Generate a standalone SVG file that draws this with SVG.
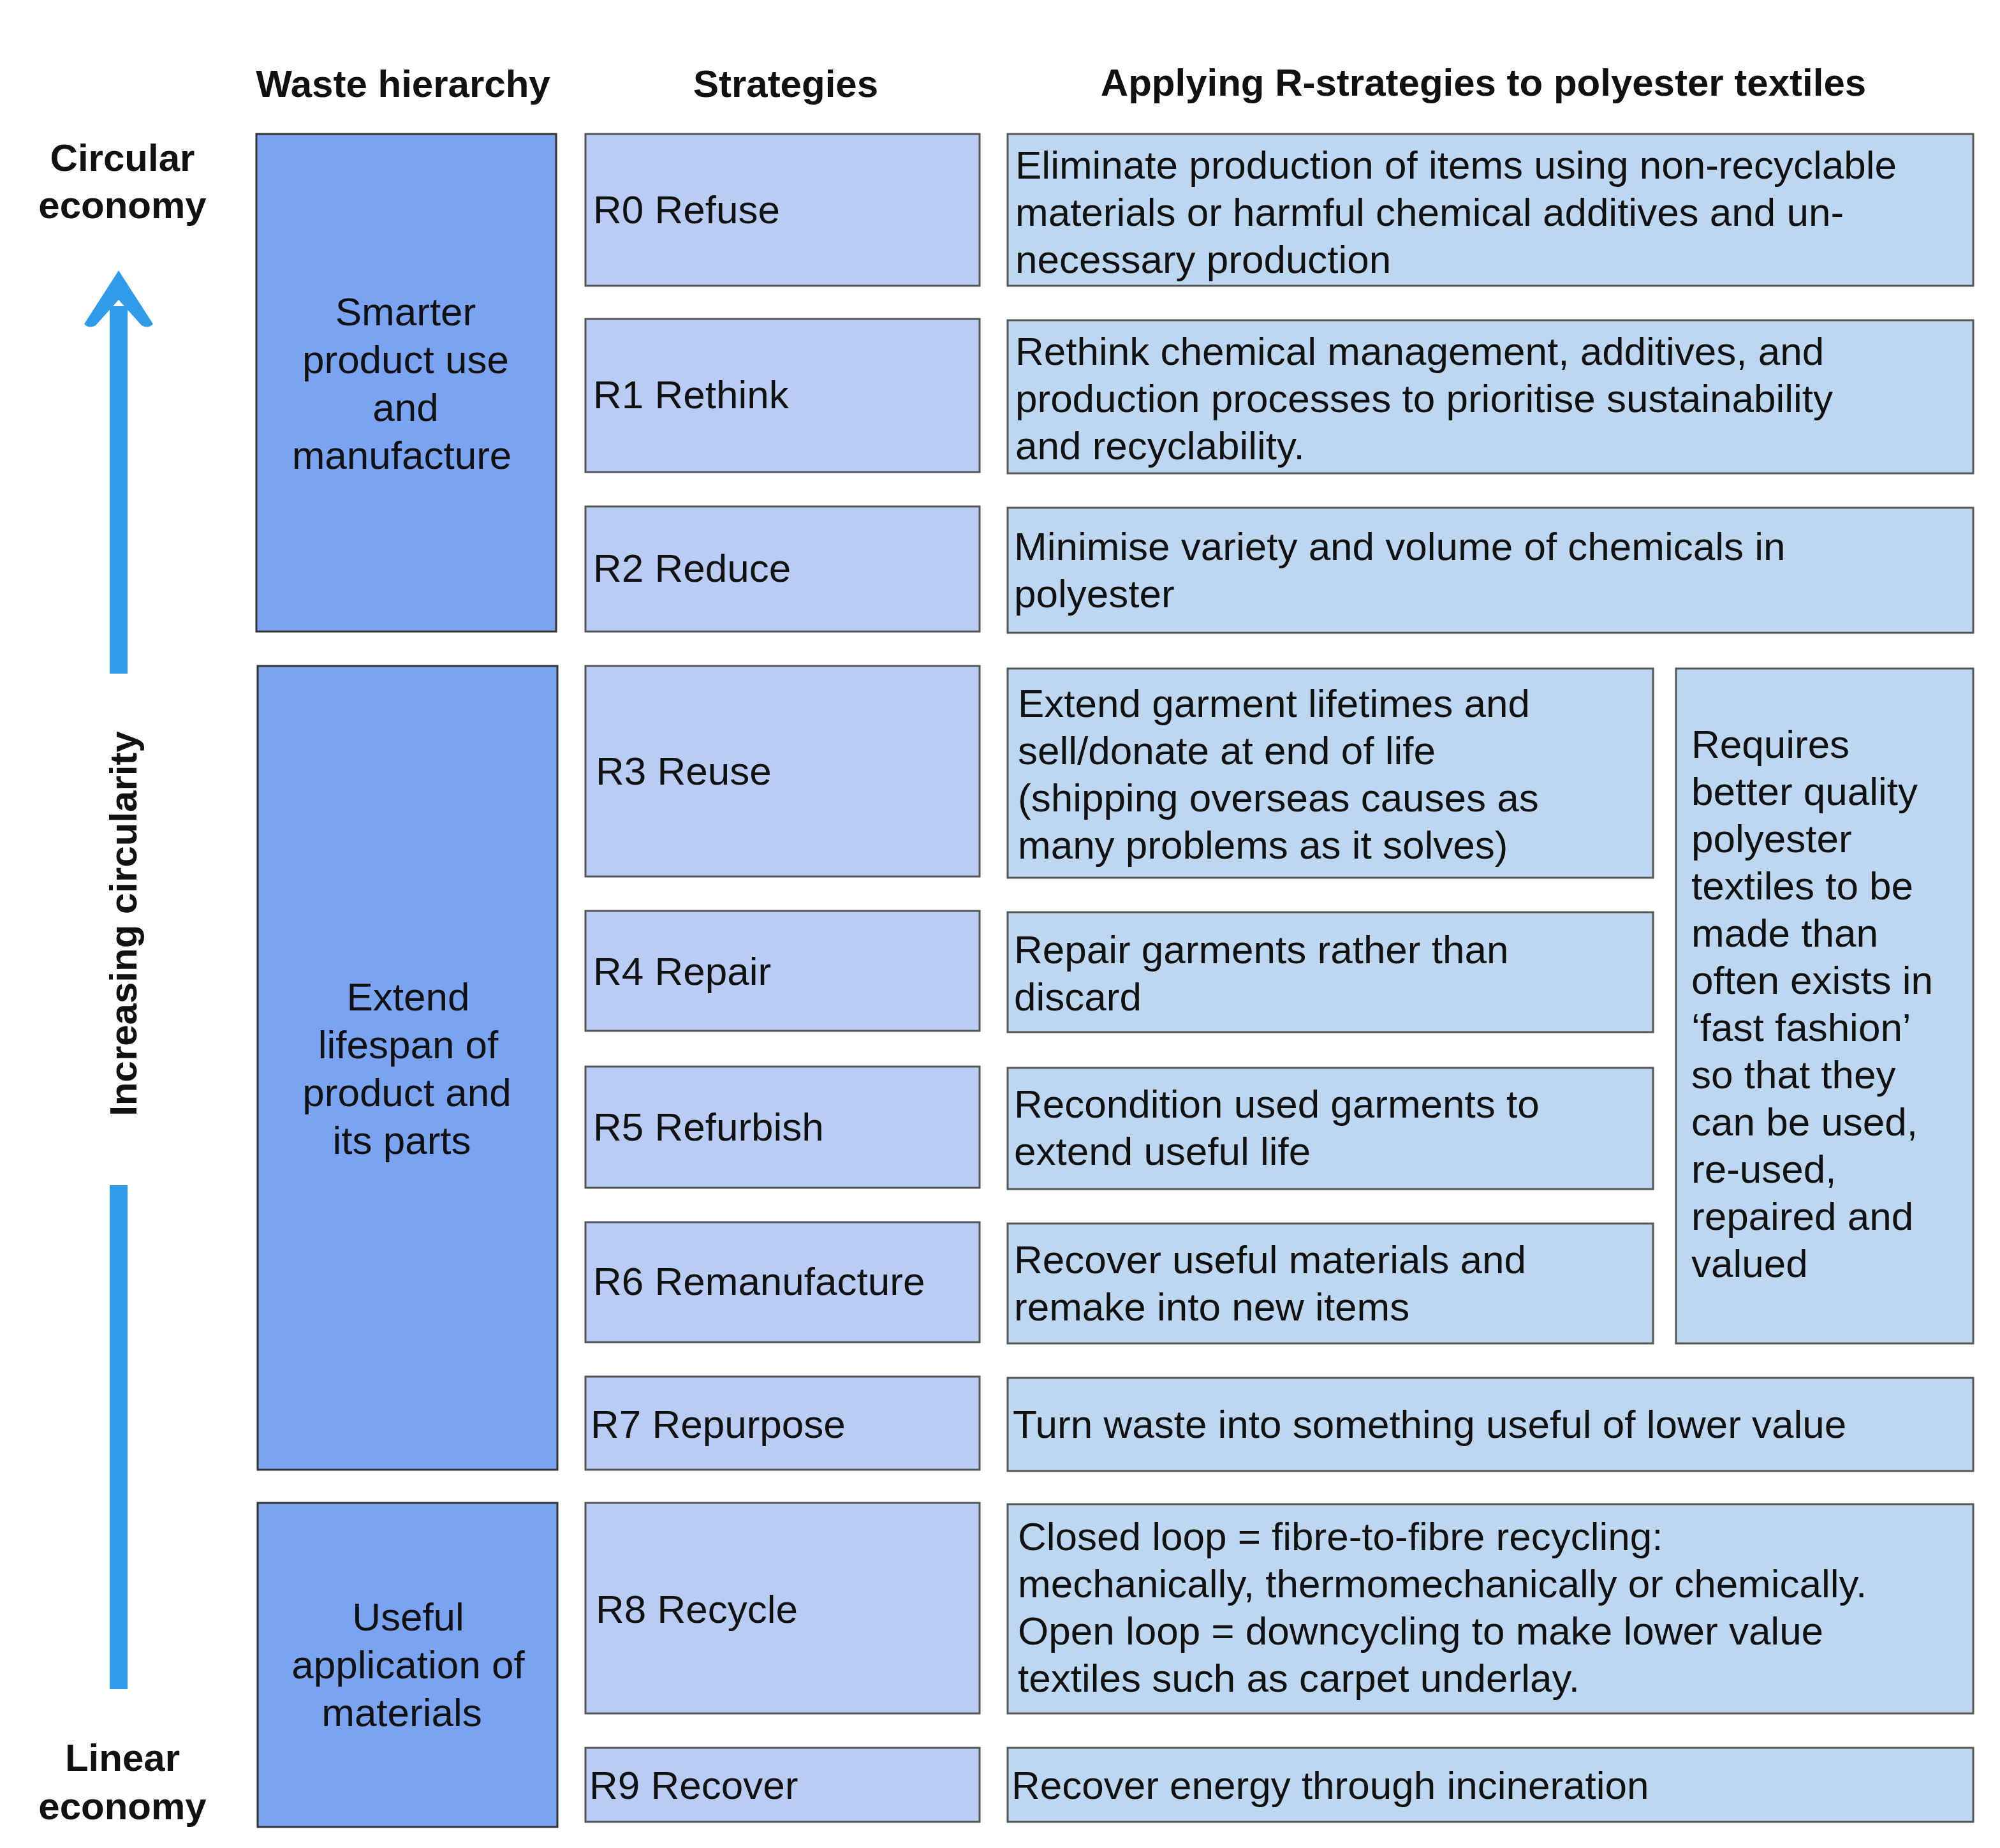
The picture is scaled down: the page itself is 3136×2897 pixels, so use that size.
<svg xmlns="http://www.w3.org/2000/svg" width="3136" height="2897" viewBox="0 0 3136 2897">
<style>
text{font-family:"Liberation Sans",Arial,sans-serif;fill:#111}
.h{font-weight:bold;font-size:60px}
.t{font-size:62px}
.a{fill:#7aa3f1;stroke:#333;stroke-width:3}
.b{fill:#b9ccf4;stroke:#555;stroke-width:3}
.c{fill:#bdd7f1;stroke:#555;stroke-width:3}
</style>
<rect width="3136" height="2897" fill="#fff"/>
<g id="headers">
<text class="h" x="632" y="152" text-anchor="middle">Waste hierarchy</text>
<text class="h" x="1232" y="152" text-anchor="middle">Strategies</text>
<text class="h" x="2326" y="150" text-anchor="middle">Applying R-strategies to polyester textiles</text>
<text class="h" x="192" y="268" text-anchor="middle">Circular</text>
<text class="h" x="192" y="342" text-anchor="middle">economy</text>
<text class="h" x="192" y="2776" text-anchor="middle">Linear</text>
<text class="h" x="192" y="2852" text-anchor="middle">economy</text>
</g>
<g id="axis">
<rect x="172" y="480" width="28" height="576" fill="#2f9be9"/>
<path d="M186 424 L240 508 Q232 516 222 510 L186 470 L150 510 Q140 516 132 508 Z" fill="#2f9be9"/>
<rect x="172" y="1858" width="28" height="790" fill="#2f9be9"/>
<text class="h" transform="translate(214 1448) rotate(-90)" text-anchor="middle">Increasing circularity</text>
</g>
<g id="hier-smarter"><rect class="a" x="402" y="210" width="470" height="780"/>
<text class="t" text-anchor="middle" x="636"><tspan x="636" y="510">Smarter</tspan><tspan x="636" y="585">product use</tspan><tspan x="636" y="660">and</tspan><tspan x="630" y="735">manufacture</tspan></text></g>
<g id="hier-extend"><rect class="a" x="404" y="1044" width="470" height="1260"/>
<text class="t" text-anchor="middle"><tspan x="640" y="1584">Extend</tspan><tspan x="640" y="1659">lifespan of</tspan><tspan x="638" y="1734">product and</tspan><tspan x="630" y="1809">its parts</tspan></text></g>
<g id="hier-useful"><rect class="a" x="404" y="2356" width="470" height="508"/>
<text class="t" text-anchor="middle"><tspan x="640" y="2556">Useful</tspan><tspan x="640" y="2631">application of</tspan><tspan x="630" y="2706">materials</tspan></text></g>
<g id="strategies">
<rect class="b" x="918" y="210" width="618" height="238"/><text class="t" x="930" y="350">R0 Refuse</text>
<rect class="b" x="918" y="500" width="618" height="240"/><text class="t" x="930" y="640">R1 Rethink</text>
<rect class="b" x="918" y="794" width="618" height="196"/><text class="t" x="930" y="912">R2 Reduce</text>
<rect class="b" x="918" y="1044" width="618" height="330"/><text class="t" x="934" y="1230">R3 Reuse</text>
<rect class="b" x="918" y="1428" width="618" height="188"/><text class="t" x="930" y="1544">R4 Repair</text>
<rect class="b" x="918" y="1672" width="618" height="190"/><text class="t" x="930" y="1788">R5 Refurbish</text>
<rect class="b" x="918" y="1916" width="618" height="188"/><text class="t" x="930" y="2030">R6 Remanufacture</text>
<rect class="b" x="918" y="2158" width="618" height="146"/><text class="t" x="926" y="2254">R7 Repurpose</text>
<rect class="b" x="918" y="2356" width="618" height="330"/><text class="t" x="934" y="2544">R8 Recycle</text>
<rect class="b" x="918" y="2740" width="618" height="116"/><text class="t" x="924" y="2820">R9 Recover</text>
</g>
<g id="applications">
<rect class="c" x="1580" y="210" width="1514" height="238"/>
<text class="t"><tspan x="1592" y="280">Eliminate production of items using non-recyclable</tspan><tspan x="1592" y="354">materials or harmful chemical additives and un-</tspan><tspan x="1592" y="428">necessary production</tspan></text>
<rect class="c" x="1580" y="502" width="1514" height="240"/>
<text class="t"><tspan x="1592" y="572">Rethink chemical management, additives, and</tspan><tspan x="1592" y="646">production processes to prioritise sustainability</tspan><tspan x="1592" y="720">and recyclability.</tspan></text>
<rect class="c" x="1580" y="796" width="1514" height="196"/>
<text class="t"><tspan x="1590" y="878">Minimise variety and volume of chemicals in</tspan><tspan x="1590" y="952">polyester</tspan></text>
<rect class="c" x="1580" y="1048" width="1012" height="328"/>
<text class="t"><tspan x="1596" y="1124">Extend garment lifetimes and</tspan><tspan x="1596" y="1198">sell/donate at end of life</tspan><tspan x="1596" y="1272">(shipping overseas causes as</tspan><tspan x="1596" y="1346">many problems as it solves)</tspan></text>
<rect class="c" x="1580" y="1430" width="1012" height="188"/>
<text class="t"><tspan x="1590" y="1510">Repair garments rather than</tspan><tspan x="1590" y="1584">discard</tspan></text>
<rect class="c" x="1580" y="1674" width="1012" height="190"/>
<text class="t"><tspan x="1590" y="1752">Recondition used garments to</tspan><tspan x="1590" y="1826">extend useful life</tspan></text>
<rect class="c" x="1580" y="1918" width="1012" height="188"/>
<text class="t"><tspan x="1590" y="1996">Recover useful materials and</tspan><tspan x="1590" y="2070">remake into new items</tspan></text>
<rect class="c" x="2628" y="1048" width="466" height="1058"/>
<text class="t"><tspan x="2652" y="1188">Requires</tspan><tspan x="2652" y="1262">better quality</tspan><tspan x="2652" y="1336">polyester</tspan><tspan x="2652" y="1410">textiles to be</tspan><tspan x="2652" y="1484">made than</tspan><tspan x="2652" y="1558">often exists in</tspan><tspan x="2652" y="1632">‘fast fashion’</tspan><tspan x="2652" y="1706">so that they</tspan><tspan x="2652" y="1780">can be used,</tspan><tspan x="2652" y="1854">re-used,</tspan><tspan x="2652" y="1928">repaired and</tspan><tspan x="2652" y="2002">valued</tspan></text>
<rect class="c" x="1580" y="2160" width="1514" height="146"/>
<text class="t" x="1588" y="2254">Turn waste into something useful of lower value</text>
<rect class="c" x="1580" y="2358" width="1514" height="328"/>
<text class="t"><tspan x="1596" y="2430">Closed loop = fibre-to-fibre recycling:</tspan><tspan x="1596" y="2504">mechanically, thermomechanically or chemically.</tspan><tspan x="1596" y="2578">Open loop = downcycling to make lower value</tspan><tspan x="1596" y="2652">textiles such as carpet underlay.</tspan></text>
<rect class="c" x="1580" y="2740" width="1514" height="116"/>
<text class="t" x="1586" y="2820">Recover energy through incineration</text>
</g>
</svg>
